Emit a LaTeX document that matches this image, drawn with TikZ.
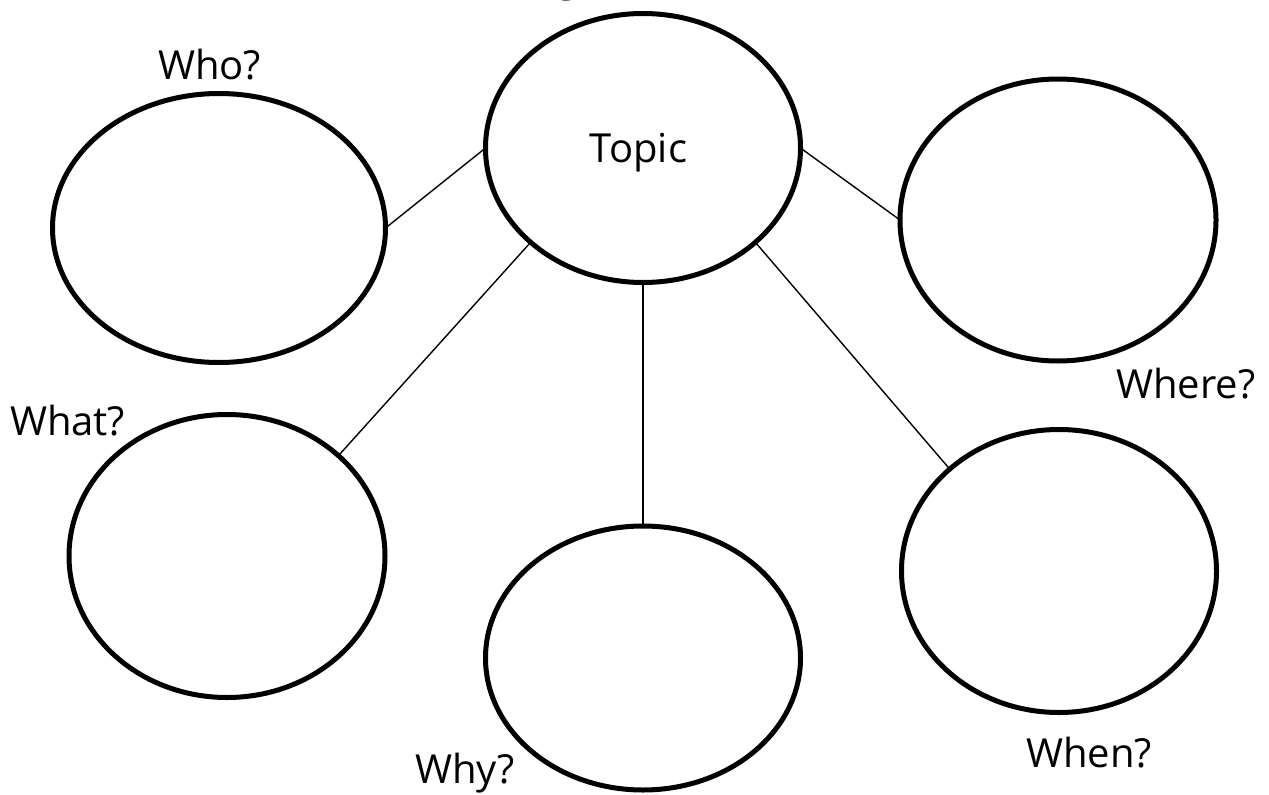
\documentclass[tikz,border=0pt]{standalone}
\usepackage{fontspec}
\setmainfont{Open Sans}
\usetikzlibrary{shapes.geometric}
\begin{document}
\begin{tikzpicture}[x=1pt,y=-1pt,
  bubble/.style={draw=black,line width=5pt,ellipse,inner sep=0pt,outer sep=0pt},
  link/.style={draw=black,line width=1.4pt},
  lbl/.style={inner sep=0pt,outer sep=0pt,font=\fontsize{40}{48}\selectfont,anchor=base west}]
\useasboundingbox[fill=white] (0,0) rectangle (1269,795);
% ellipses
\node[bubble,minimum width=315pt,minimum height=269pt] (topic) at (643,148) {};
\node[bubble,minimum width=333pt,minimum height=269pt] (who) at (219,228) {};
\node[bubble,minimum width=316pt,minimum height=283pt] (what) at (227,556) {};
\node[bubble,minimum width=315pt,minimum height=264pt] (why) at (643,658) {};
\node[bubble,minimum width=316pt,minimum height=282pt] (where) at (1058,220) {};
\node[bubble,minimum width=315pt,minimum height=283pt] (when) at (1059,571) {};
% connectors
\draw[link] (topic.west) -- (who.east);
\draw[link] (topic.220.4) -- (what.42.2);
\draw[link] (topic.south) -- (why.north);
\draw[link] (topic.east) -- (where.west);
\draw[link] (topic.-40.4) -- (when.137.9);
% labels
\node[lbl,anchor=base] (topiclbl) at (638.5,162) {Topic};
\node[lbl] (wholbl) at (158,79) {Who?};
\node[lbl] (whatlbl) at (10,435) {What?};
\node[lbl] (whylbl) at (415,783) {Why?};
\node[lbl] (wherelbl) at (1116,398) {Where?};
\node[lbl] (whenlbl) at (1026,767) {When?};
% title, clipped by the page edge
\node[lbl] (titlelbl) at (556,-9) {g};
\end{tikzpicture}
\end{document}
